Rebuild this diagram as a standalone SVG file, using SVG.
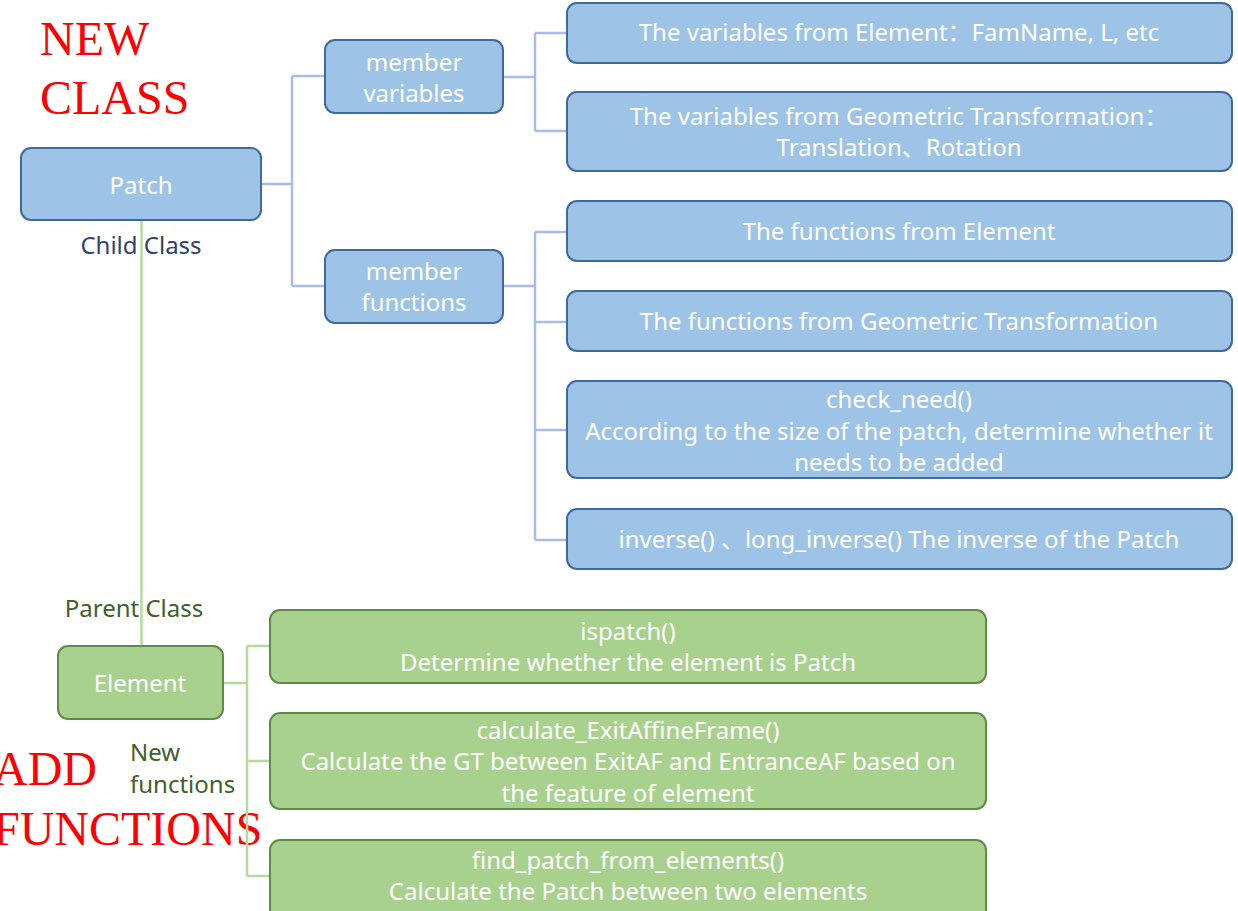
<svg xmlns="http://www.w3.org/2000/svg" width="1238" height="911" viewBox="0 0 1238 911">
  <style>
    .blue { fill: #9DC3E6; stroke: #41689F; stroke-width: 2; }
    .green { fill: #A9D18E; stroke: #5E8B45; stroke-width: 2; }
    .t { font-family: "Noto Sans", "Open Sans", "Noto Sans CJK SC", sans-serif; font-size: 24px; fill: #FFFFFF; text-anchor: middle; }
    .lbl { font-family: "Noto Sans", "Open Sans", sans-serif; font-size: 24px; }
    .red { font-family: "Liberation Serif", serif; font-size: 48px; fill: #FF0000; }
    .cb { fill: none; stroke: #A8BDE6; stroke-width: 2.5; }
    .cg { fill: none; stroke: #B5DAA0; stroke-width: 2.5; }
  </style>

  <!-- headings -->
  <text class="red" x="40" y="55">NEW</text>
  <text class="red" x="40" y="114">CLASS</text>
  <text class="red" x="-7" y="785">ADD</text>
  <text class="red" x="-7" y="845">FUNCTIONS</text>

  <!-- connectors -->
  <g id="connectors">
    <path class="cb" d="M261 184 H292 M292 76 V286 M292 76 H325 M292 286 H325"/>
    <path class="cb" d="M503 77 H535 M535 33 V131 M535 33 H567 M535 131 H567"/>
    <path class="cb" d="M503 286 H535 M535 232 V540 M535 232 H567 M535 322 H567 M535 430 H567 M535 540 H567"/>
    <path class="cg" d="M141.5 220 V645"/>
    <path class="cg" d="M223 683 H247 M247 646 V876 M247 646 H270 M247 761 H270 M247 876 H270"/>
  </g>

  <text class="lbl" x="141" y="254" text-anchor="middle" fill="#2F4470">Child Class</text>
  <text class="lbl" x="134" y="617" text-anchor="middle" fill="#3F6128">Parent Class</text>
  <text class="lbl" x="130" y="761" fill="#3F6128">New</text>
  <text class="lbl" x="130" y="793" fill="#3F6128">functions</text>

  <g id="patch">
    <rect class="blue" x="21" y="148" width="240" height="72" rx="10"/>
    <text class="t" x="141" y="194">Patch</text>
  </g>

  <g id="member-variables">
    <rect class="blue" x="325" y="40" width="178" height="73" rx="10"/>
    <text class="t" x="414" y="71">member</text>
    <text class="t" x="414" y="102">variables</text>
  </g>

  <g id="member-functions">
    <rect class="blue" x="325" y="250" width="178" height="73" rx="10"/>
    <text class="t" x="414" y="280">member</text>
    <text class="t" x="414" y="311">functions</text>
  </g>

  <g id="var-element">
    <rect class="blue" x="567" y="3" width="665" height="60" rx="10"/>
    <text class="t" x="899" y="41">The variables from Element：FamName, L, etc</text>
  </g>

  <g id="var-gt">
    <rect class="blue" x="567" y="92" width="665" height="79" rx="10"/>
    <text class="t" x="899" y="125">The variables from Geometric Transformation：</text>
    <text class="t" x="899" y="156">Translation、Rotation</text>
  </g>

  <g id="fn-element">
    <rect class="blue" x="567" y="201" width="665" height="60" rx="10"/>
    <text class="t" x="899" y="240">The functions from Element</text>
  </g>

  <g id="fn-gt">
    <rect class="blue" x="567" y="291" width="665" height="60" rx="10"/>
    <text class="t" x="899" y="330">The functions from Geometric Transformation</text>
  </g>

  <g id="fn-check-need">
    <rect class="blue" x="567" y="381" width="665" height="97" rx="10"/>
    <text class="t" x="899" y="408">check_need()</text>
    <text class="t" x="899" y="440">According to the size of the patch, determine whether it</text>
    <text class="t" x="899" y="471">needs to be added</text>
  </g>

  <g id="fn-inverse">
    <rect class="blue" x="567" y="509" width="665" height="60" rx="10"/>
    <text class="t" x="899" y="548">inverse() 、long_inverse() The inverse of the Patch</text>
  </g>

  <g id="element">
    <rect class="green" x="58" y="646" width="165" height="73" rx="10"/>
    <text class="t" x="140" y="692">Element</text>
  </g>

  <g id="ispatch">
    <rect class="green" x="270" y="610" width="716" height="73" rx="10"/>
    <text class="t" x="628" y="640">ispatch()</text>
    <text class="t" x="628" y="671">Determine whether the element is Patch</text>
  </g>

  <g id="calc-exit-frame">
    <rect class="green" x="270" y="713" width="716" height="96" rx="10"/>
    <text class="t" x="628" y="739">calculate_ExitAffineFrame()</text>
    <text class="t" x="628" y="770">Calculate the GT between ExitAF and EntranceAF based on</text>
    <text class="t" x="628" y="802">the feature of element</text>
  </g>

  <g id="find-patch">
    <rect class="green" x="270" y="840" width="716" height="80" rx="10"/>
    <text class="t" x="628" y="869">find_patch_from_elements()</text>
    <text class="t" x="628" y="900">Calculate the Patch between two elements</text>
  </g>
</svg>
